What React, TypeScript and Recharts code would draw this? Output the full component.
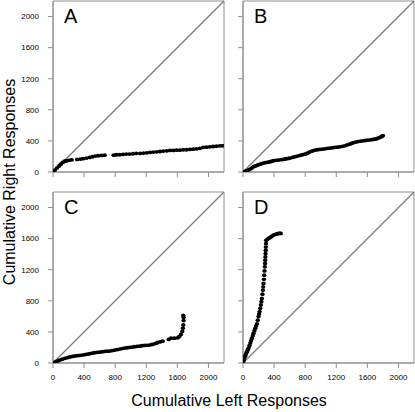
import { ScatterChart, Scatter, XAxis, YAxis, ReferenceLine, ReferenceArea } from "recharts";

// tick labels shared by all four panels
const axisTicks = [0, 400, 800, 1200, 1600, 2000];
const axisMax = 2200;

// Panel A: cumulative left / right responses
const aLeft = [0, 25, 50, 75, 100, 125, 150, 175, 205, 240, 311, 354, 388, 431, 473, 507, 542, 580, 623, 665, 780, 814, 857, 900, 942, 985, 1028, 1070, 1121, 1164, 1207, 1249, 1292, 1335, 1377, 1420, 1463, 1505, 1548, 1590, 1633, 1676, 1718, 1761, 1804, 1846, 1889, 1932, 1974, 2017, 2059, 2102, 2145, 2180];
const aRight = [0, 25, 50, 75, 100, 122, 138, 145, 150, 155, 162, 166, 171, 179, 188, 196, 205, 209, 213, 217, 217, 222, 222, 226, 230, 230, 235, 239, 239, 243, 247, 252, 256, 260, 264, 269, 273, 277, 277, 281, 281, 286, 286, 290, 294, 298, 303, 316, 320, 324, 328, 332, 337, 337];

// Panel B
const bLeft = [0, 25, 51, 72, 94, 115, 136, 158, 179, 200, 222, 243, 264, 286, 307, 330, 350, 372, 392, 425, 456, 490, 520, 542, 563, 584, 605, 637, 669, 700, 733, 765, 797, 820, 840, 861, 893, 925, 957, 989, 1021, 1053, 1085, 1117, 1149, 1181, 1213, 1245, 1277, 1309, 1340, 1373, 1395, 1416, 1448, 1480, 1512, 1544, 1576, 1608, 1640, 1671, 1693, 1714, 1736, 1757, 1775, 1791, 1800];
const bRight = [0, 8, 17, 28, 38, 52, 68, 77, 85, 94, 102, 108, 115, 120, 124, 128, 132, 139, 145, 150, 154, 158, 162, 167, 171, 175, 179, 188, 196, 205, 213, 222, 230, 238, 247, 260, 270, 281, 286, 290, 294, 298, 303, 307, 311, 316, 320, 324, 330, 337, 348, 358, 367, 375, 384, 392, 397, 401, 405, 409, 414, 418, 422, 426, 435, 443, 452, 460, 469];

// Panel C
const cLeft = [0, 25, 47, 70, 90, 120, 154, 185, 217, 250, 281, 313, 345, 377, 409, 441, 473, 505, 537, 569, 601, 633, 665, 697, 729, 761, 793, 825, 857, 889, 921, 953, 985, 1017, 1049, 1081, 1113, 1145, 1177, 1209, 1241, 1273, 1305, 1330, 1347, 1380, 1411, 1488, 1518, 1561, 1603, 1625, 1646, 1663, 1671, 1676, 1680, 1680, 1676];
const cRight = [0, 10, 21, 30, 38, 49, 60, 68, 77, 84, 90, 94, 98, 102, 107, 113, 119, 126, 132, 137, 141, 145, 149, 152, 154, 160, 166, 172, 179, 186, 192, 196, 200, 205, 209, 213, 217, 222, 226, 228, 230, 238, 247, 256, 264, 272, 281, 303, 320, 320, 324, 341, 367, 405, 448, 490, 546, 588, 614];

// Panel D
const dLeft = [0, 9, 17, 26, 34, 43, 51, 62, 72, 83, 94, 104, 115, 126, 136, 147, 158, 168, 179, 190, 200, 207, 213, 222, 230, 237, 243, 250, 256, 260, 264, 269, 273, 277, 281, 284, 286, 288, 290, 292, 294, 296, 298, 313, 328, 343, 358, 375, 392, 409, 426, 444, 461, 474, 486];
const dRight = [0, 32, 64, 86, 107, 128, 149, 171, 192, 224, 256, 288, 320, 352, 384, 416, 448, 476, 503, 550, 597, 629, 661, 704, 746, 789, 831, 885, 938, 980, 1023, 1077, 1130, 1184, 1237, 1280, 1322, 1365, 1407, 1450, 1492, 1535, 1578, 1590, 1603, 1612, 1620, 1633, 1646, 1652, 1659, 1663, 1667, 1667, 1667];

const FONT = "'Liberation Sans', Arial, Helvetica, sans-serif";
const GRAY = "#909090";

function toPoints(left: number[], right: number[]) {
  return left.map((x, i) => ({ x, y: right[i] }));
}

interface PanelProps {
  letter: string;
  left: number[];
  right: number[];
  x: number;
  y: number;
  showXLabels: boolean;
  showYLabels: boolean;
}

// small black marker, a bit wider than tall like the original
function Dot(props: any) {
  return <ellipse cx={props.cx} cy={props.cy} rx={2.2} ry={1.9} fill="#000" />;
}

function Panel({ letter, left, right, x, y, showXLabels, showYLabels }: PanelProps) {
  const data = toPoints(left, right);
  return (
    <div style={{ position: "absolute", left: x, top: y }}>
      <ScatterChart width={229} height={195} margin={{ top: 1, right: 5, bottom: 3, left: 13 }}>
        <XAxis
          type="number"
          dataKey="x"
          domain={[0, axisMax]}
          ticks={axisTicks}
          allowDataOverflow
          height={20}
          tickSize={5}
          tickMargin={6}
          stroke={GRAY}
          tick={{ fontSize: 8, fill: "#000", fontFamily: FONT }}
          tickFormatter={(v) => (showXLabels ? String(v) : "")}
        />
        <YAxis
          type="number"
          dataKey="y"
          domain={[0, axisMax]}
          ticks={axisTicks}
          allowDataOverflow
          width={40}
          tickSize={5}
          tickMargin={9}
          stroke={GRAY}
          tick={{ fontSize: 8, fill: "#000", fontFamily: FONT }}
          tickFormatter={(v) => (showYLabels ? String(v) : "")}
        />
        <ReferenceArea x1={0} x2={axisMax} y1={0} y2={axisMax} fill="none" stroke={GRAY} strokeWidth={1} ifOverflow="visible" />
        <ReferenceLine
          segment={[{ x: 0, y: 0 }, { x: axisMax, y: axisMax }]}
          stroke="#7a7a7a"
          strokeWidth={1.2}
        />
        <Scatter data={data} shape={Dot} isAnimationActive={false} />
      </ScatterChart>
      <div style={{ position: "absolute", left: 64, top: 5, fontSize: 20, fontFamily: FONT, color: "#000" }}>{letter}</div>
    </div>
  );
}

export default function App() {
  return (
    <div style={{ position: "absolute", left: 0, top: 0, width: 415, height: 412, background: "#fff", fontFamily: FONT }}>
      <Panel letter="A" left={aLeft} right={aRight} x={0} y={0} showXLabels={false} showYLabels />
      <Panel letter="B" left={bLeft} right={bRight} x={190} y={0} showXLabels={false} showYLabels={false} />
      <Panel letter="C" left={cLeft} right={cRight} x={0} y={191} showXLabels showYLabels />
      <Panel letter="D" left={dLeft} right={dRight} x={190} y={191} showXLabels showYLabels={false} />
      <div
        style={{
          position: "absolute",
          left: 10,
          top: 182,
          transform: "translate(-50%, -50%) rotate(-90deg)",
          whiteSpace: "nowrap",
          fontSize: 16,
        }}
      >
        Cumulative Right Responses
      </div>
      <div
        style={{
          position: "absolute",
          left: 229,
          top: 401,
          transform: "translate(-50%, -50%)",
          whiteSpace: "nowrap",
          fontSize: 16,
        }}
      >
        Cumulative Left Responses
      </div>
    </div>
  );
}
